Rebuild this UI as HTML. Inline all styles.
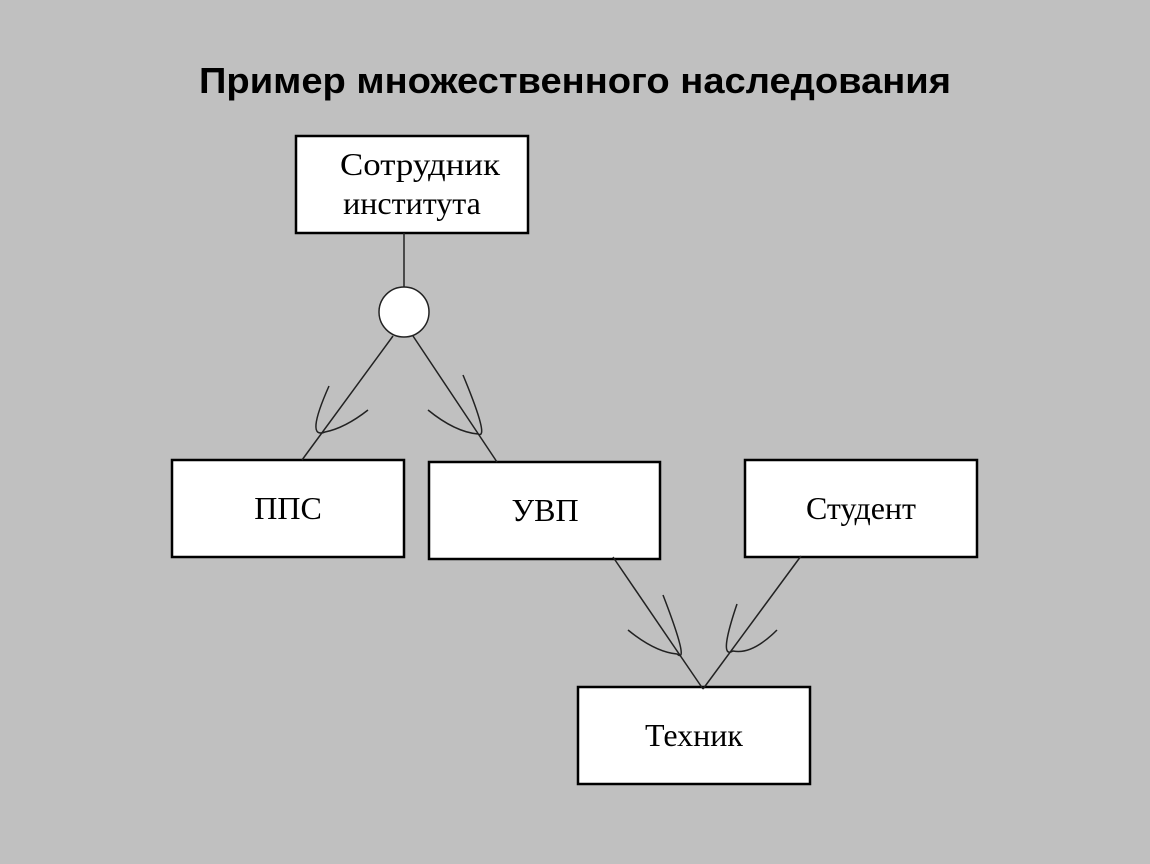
<!DOCTYPE html>
<html><head><meta charset="utf-8"><style>
body{margin:0;width:1150px;height:864px;background:#c0c0c0;overflow:hidden;}
svg{position:absolute;left:0;top:0}
</style></head><body>
<svg width="1150" height="864" xmlns="http://www.w3.org/2000/svg">
<text x="575" y="93" text-anchor="middle" font-family="Liberation Sans, sans-serif" font-weight="bold" font-size="36" fill="#000" textLength="752" lengthAdjust="spacingAndGlyphs">Пример множественного  наследования</text>
<g fill="#fff" stroke="#000" stroke-width="2.5">
<rect x="296" y="136" width="232" height="97"/>
<rect x="172" y="460" width="232" height="97"/>
<rect x="429" y="462" width="231" height="97"/>
<rect x="745" y="460" width="232" height="97"/>
<rect x="578" y="687" width="232" height="97"/>
</g>
<g font-family="Liberation Serif, serif" font-size="32" fill="#000" text-anchor="middle">
<text x="420" y="175" textLength="160" lengthAdjust="spacingAndGlyphs">Сотрудник</text>
<text x="412" y="214">института</text>
<text x="288" y="519">ППС</text>
<text x="545" y="521">УВП</text>
<text x="861" y="519">Студент</text>
<text x="694" y="746">Техник</text>
</g>
<g stroke="#222" stroke-width="1.5" fill="none">
<line x1="404" y1="233" x2="404" y2="287"/>
<circle cx="404" cy="312" r="25" fill="#fff"/>
<line x1="393" y1="336" x2="302" y2="460"/>
<line x1="413" y1="336" x2="497" y2="462"/>
<line x1="613" y1="557" x2="703" y2="689"/>
<line x1="801" y1="556" x2="703" y2="689"/>
<path d="M329 386 Q305 440 325 432 Q345 428 368 410"/>
<path d="M463 375 Q490 440 478 434 Q455 432 428 410"/>
<path d="M663 595 Q690 665 677 654 Q655 652 628 630"/>
<path d="M737 604 Q718 660 733 651 Q752 655 777 630"/>
</g>
</svg>
</body></html>
